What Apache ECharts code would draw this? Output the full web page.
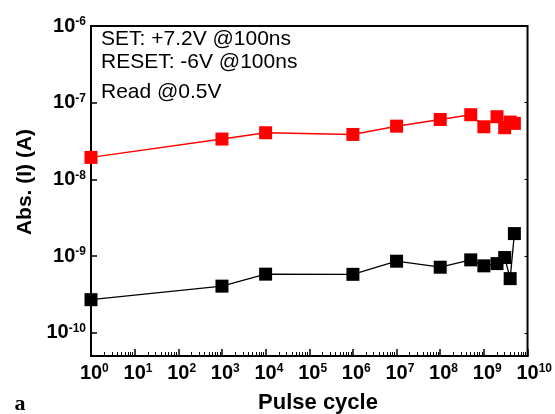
<!DOCTYPE html>
<html>
<head>
<meta charset="utf-8">
<script src="https://cdn.jsdelivr.net/npm/echarts@6/dist/echarts.min.js"></script>
<style>
html, body { margin: 0; padding: 0; background: #fff; }
#main { width: 555px; height: 414px; }
</style>
</head>
<body>
<div id="main"></div>
<script>
// pulse cycles (x) and read currents (A)
var cycles = [1, 1e3, 1e4, 1e6, 1e7, 1e8, 5e8, 1e9, 2e9, 3e9, 4e9, 5e9];
var lrsCurrent = [1.94e-8, 3.36e-8, 4.06e-8, 3.86e-8, 4.95e-8, 6.05e-8, 6.98e-8, 4.86e-8, 6.57e-8, 4.72e-8, 5.6e-8, 5.38e-8];
var hrsCurrent = [2.71e-10, 4.07e-10, 5.83e-10, 5.8e-10, 8.6e-10, 7.18e-10, 8.95e-10, 7.48e-10, 8.0e-10, 9.6e-10, 5.1e-10, 1.97e-9];
var xTicks = [1, 1e1, 1e2, 1e3, 1e4, 1e5, 1e6, 1e7, 1e8, 1e9, 1e10];
var yTicks = [1e-10, 1e-9, 1e-8, 1e-7, 1e-6];
var notes = ['SET: +7.2V @100ns', 'RESET: -6V @100ns', 'Read @0.5V'];

//minor ticks 2..9 in every decade
var xMinor = [];
for (var d = 0; d < xTicks.length - 1; d++) {
	for (var k = 2; k < 10; k++) {
		xMinor.push(k * xTicks[d]);
	}
}

function pairs(xs, ys) {
	var out = [];
	for (var i = 0; i < xs.length; i++) {
		out.push([xs[i], ys[i]]);
	}
	return out;
}

function expOf(v) {
	return Math.round(Math.log(v) / Math.LN10);
}

var font = 'Liberation Sans';
var supRich = {
	b: {fontFamily: font, fontWeight: 'bold', fontSize: 20, lineHeight: 20, color: '#000'},
	s: {fontFamily: font, fontWeight: 'bold', fontSize: 12, lineHeight: 12, verticalAlign: 'top', color: '#000'},
	h: {fontFamily: font, fontWeight: 'bold', fontSize: 12, lineHeight: 12, verticalAlign: 'top', color: 'rgba(0,0,0,0)'}
};

var chart = echarts.init(document.getElementById('main'));
var option = {
	backgroundColor: '#fff',
	animation: false,
	grid: {
		left: 91, right: 25, top: 26, bottom: 58,
		show: true, borderColor: '#000', borderWidth: 2, backgroundColor: 'transparent'
	},
	xAxis: [
		{
			type: 'log', min: 1, max: 1e10, position: 'bottom',
			axisLine: {show: true, lineStyle: {color: '#000', width: 2}},
			axisTick: {show: true, inside: true, length: 7, lineStyle: {color: '#000', width: 1.5}, customValues: xTicks},
			axisLabel: {
				customValues: xTicks, margin: 7, rich: supRich,
				formatter: function (v) {
					var e = expOf(v);
					return '{h|' + e + '}{b|10}{s|' + e + '}';
				}
			},
			splitLine: {show: false},
			minorTick: {show: false}
		},
		{
			type: 'log', min: 1, max: 1e10, position: 'bottom',
			axisLine: {show: false},
			axisTick: {show: true, inside: true, length: 4, lineStyle: {color: '#000', width: 1}, customValues: xMinor},
			axisLabel: {show: false},
			splitLine: {show: false}
		}
	],
	yAxis: [
		{
			type: 'log', min: 5e-11, max: 1e-6, position: 'left',
			axisLine: {show: true, lineStyle: {color: '#000', width: 2}},
			axisTick: {show: true, inside: true, length: 6, lineStyle: {color: '#000', width: 1.5}, customValues: yTicks},
			axisLabel: {
				customValues: yTicks, margin: 5, rich: supRich,
				formatter: function (v) {
					return '{b|10}{s|' + expOf(v) + '}';
				}
			},
			splitLine: {show: false}
		},
		{
			type: 'log', min: 5e-11, max: 1e-6, position: 'right',
			axisLine: {show: false},
			axisTick: {show: true, inside: true, length: 3, lineStyle: {color: '#000', width: 1}, customValues: yTicks},
			axisLabel: {show: false},
			splitLine: {show: false}
		}
	],
	graphic: [
		{type: 'text', left: 101, top: 29, style: {text: notes[0], font: '21px "Liberation Sans"', fill: '#000'}},
		{type: 'text', left: 101, top: 52, style: {text: notes[1], font: '21px "Liberation Sans"', fill: '#000'}},
		{type: 'text', left: 101, top: 82, style: {text: notes[2], font: '21px "Liberation Sans"', fill: '#000'}},
		{type: 'text', x: 318, y: 403, style: {text: 'Pulse cycle', font: 'bold 22px "Liberation Sans"', fill: '#000', align: 'center', verticalAlign: 'middle'}},
		{type: 'text', x: 25, y: 182, rotation: Math.PI / 2, style: {text: 'Abs. (I) (A)', font: 'bold 21px "Liberation Sans"', fill: '#000', align: 'center', verticalAlign: 'middle'}},
		{type: 'text', x: 20, y: 404, style: {text: 'a', font: 'bold 22px "Liberation Serif"', fill: '#000', align: 'center', verticalAlign: 'middle'}}
	],
	series: [
		{
			name: 'LRS',
			type: 'line',
			data: pairs(cycles, lrsCurrent),
			symbol: 'rect',
			symbolSize: 13,
			lineStyle: {color: '#ff0000', width: 1.5},
			itemStyle: {color: '#ff0000'}
		},
		{
			name: 'HRS',
			type: 'line',
			data: pairs(cycles, hrsCurrent),
			symbol: 'rect',
			symbolSize: 13,
			lineStyle: {color: '#000', width: 1.3},
			itemStyle: {color: '#000'}
		}
	]
};
chart.setOption(option);
</script>
</body>
</html>
